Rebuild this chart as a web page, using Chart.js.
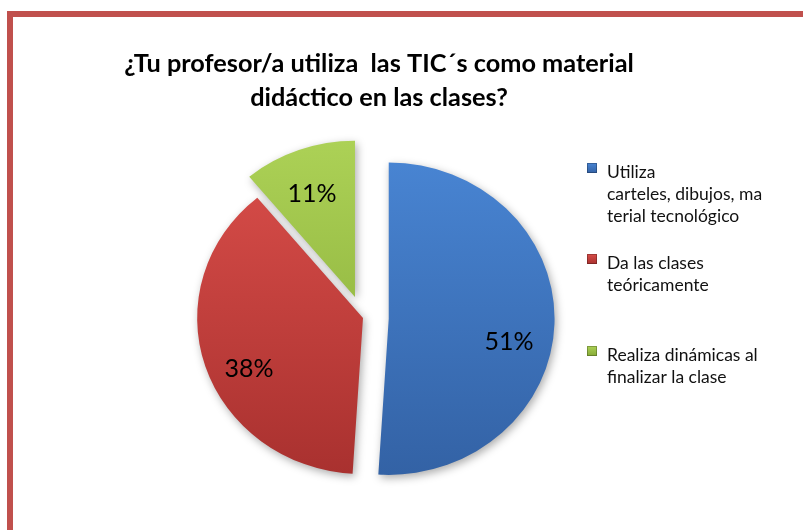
<!DOCTYPE html>
<html><head><meta charset="utf-8">
<script src="https://cdn.jsdelivr.net/npm/chart.js@4.4.1/dist/chart.umd.min.js"></script>
<style>
html,body{margin:0;padding:0;background:#fff;overflow:hidden}
#wrap{position:relative;width:803px;height:530px;background:#fff}
#frame{position:absolute;left:7px;top:11px;width:900px;height:700px;border-left:6px solid #c0504d;border-top:6px solid #c0504d;box-sizing:border-box}
canvas{position:absolute;left:0;top:0}
</style></head><body>
<div id="wrap"><div id="frame"></div><canvas id="c" width="803" height="530"></canvas></div>
<script>
// ---- data ----
const titleLines = ["¿Tu profesor/a utiliza  las TIC´s como material", "didáctico en las clases?"];
const categories = [
  ["Utiliza", "carteles, dibujos, ma", "terial tecnológico"],
  ["Da las clases", "teóricamente"],
  ["Realiza dinámicas al", "finalizar la clase"]
];
const percentages = [51, 38, 11];

// ---- style ----
const sliceColors = [
  {top:'#4884d2', bottom:'#3362a5', flat:'#4279c4'},
  {top:'#d84d49', bottom:'#a9312f', flat:'#c8403d'},
  {top:'#acd156', bottom:'#86aa36', flat:'#9bc247'}
];
const CX = 363, CY = 318, R = 161;
const SX = 1.03, SY = 0.97;

function sliceGradient(ctx, i, y0, y1){
  const g = ctx.createLinearGradient(0, y0, 0, y1);
  g.addColorStop(0, sliceColors[i].top);
  g.addColorStop(1, sliceColors[i].bottom);
  return g;
}

function midAngle(arc){
  const p = arc.getProps(['startAngle','endAngle'], true);
  return (p.startAngle + p.endAngle) / 2;
}

const overlay = {
  id: 'overlay',
  beforeDatasetDraw(chart, args, opts){
    const c = chart.ctx;
    c.save();
    c.shadowColor = 'rgba(0,0,0,0.33)'; c.shadowBlur = 8; c.shadowOffsetX = 2; c.shadowOffsetY = 3;
    args.meta.data.forEach((arc, i)=>{
      const p = arc.getProps(['x','y'], true);
      const mid = midAngle(arc);
      const d = opts.explode[i] || 0;
      c.save();
      c.translate(p.x, p.y); c.scale(SX, SY); c.translate(-p.x, -p.y);
      c.translate(d*Math.cos(mid), d*Math.sin(mid));
      arc.draw(c, chart.chartArea);
      c.restore();
    });
    c.restore();
    return false;
  },
  afterDatasetsDraw(chart, args, opts){
    const c = chart.ctx;
    const meta = chart.getDatasetMeta(0);
    const ds = chart.data.datasets[0];
    const total = ds.data.reduce((a,b)=>a+b,0);
    c.save();
    c.font = '25px Lato'; c.fillStyle = '#000'; c.textAlign = 'center'; c.textBaseline = 'middle';
    meta.data.forEach((arc,i)=>{
      const p = arc.getProps(['x','y','outerRadius'], true);
      const mid = midAngle(arc);
      const d = opts.explode[i] || 0;
      const pl = opts.place[i];
      const a = mid + pl.a*Math.PI/180;
      const r = p.outerRadius*pl.r;
      const dx = d*Math.cos(mid) + r*Math.cos(a);
      const dy = d*Math.sin(mid) + r*Math.sin(a);
      c.fillText(Math.round(ds.data[i]/total*100) + '%', p.x + dx*SX, p.y + dy*SY);
    });
    c.restore();
  },
  afterDraw(chart, args, opts){
    const c = chart.ctx;
    c.save();
    // title
    c.fillStyle = '#000'; c.textAlign = 'center'; c.textBaseline = 'alphabetic';
    c.font = 'bold 25.3px Lato';
    titleLines.forEach((ln, j)=> c.fillText(ln, opts.title.x, opts.title.y[j]));
    // legend
    const L = opts.legend;
    c.font = '17.5px Lato'; c.textAlign = 'left'; c.textBaseline = 'middle';
    chart.data.labels.forEach((lab, i)=>{
      const lines = Array.isArray(lab) ? lab : [lab];
      const y0 = L.itemY[i];
      const my = y0 - 9;
      const g = c.createLinearGradient(0, my, 0, my + L.box);
      g.addColorStop(0, sliceColors[i].top); g.addColorStop(1, sliceColors[i].bottom);
      c.fillStyle = g;
      c.fillRect(L.x, my, L.box, L.box);
      c.strokeStyle = 'rgba(0,0,0,0.25)'; c.lineWidth = 1;
      c.strokeRect(L.x + 0.5, my + 0.5, L.box - 1, L.box - 1);
      c.fillStyle = '#111';
      lines.forEach((ln, j)=> c.fillText(ln, L.textX, y0 + j*L.lineH));
    });
    c.restore();
  }
};

new Chart(document.getElementById('c'), {
  type: 'pie',
  data: {
    labels: categories,
    datasets: [{
      data: percentages,
      offset: 0,
      hoverOffset: 0,
      borderWidth: 0,
      backgroundColor: (ctx) => {
        const ch = ctx.chart;
        if (!ch.chartArea) return sliceColors[ctx.dataIndex].flat;
        return sliceGradient(ch.ctx, ctx.dataIndex, CY - R, CY + R);
      }
    }]
  },
  options: {
    responsive: false,
    animation: false,
    devicePixelRatio: 1,
    radius: R,
    layout: { padding: { left: 40, right: 117, top: 150, bottom: 44 } },
    plugins: {
      legend: { display: false },
      title: { display: false },
      tooltip: { enabled: false },
      overlay: {
        explode: [25, 0, 23],
        place: [{a: 9.6, r: 0.74}, {a: -7.3, r: 0.76}, {a: -1.6, r: 0.71}],
        title: { x: 379, y: [72, 106] },
        legend: { x: 587, box: 10, textX: 607, itemY: [172, 263, 355], lineH: 22 }
      }
    }
  },
  plugins: [overlay]
});
</script>
</body></html>
